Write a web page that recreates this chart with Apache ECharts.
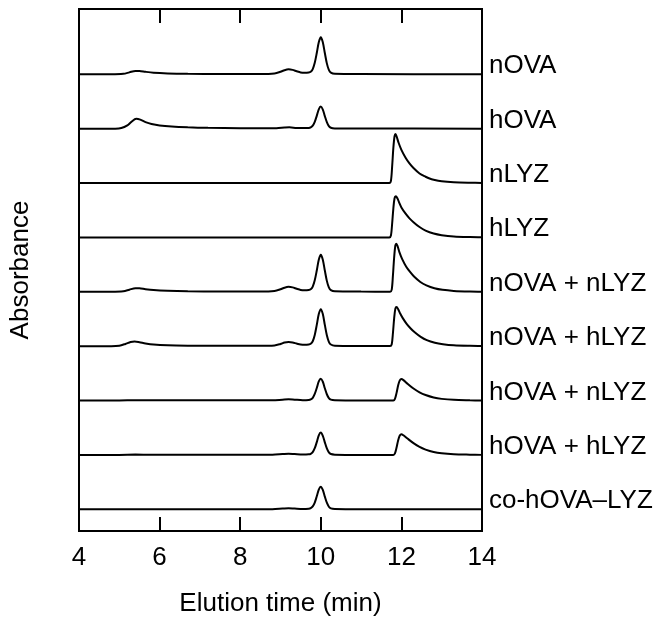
<!DOCTYPE html>
<html>
<head>
<meta charset="utf-8">
<script src="https://cdn.jsdelivr.net/npm/echarts@6/dist/echarts.min.js"></script>
<style>
  html, body { margin: 0; padding: 0; background: #fff; }
  #chart { width: 672px; height: 624px; }
</style>
</head>
<body>
<div id="chart"></div>
<script>
// Size-exclusion chromatograms, absorbance vs elution time.
// Each trace is a list of [time (min), absorbance above its own baseline].
const traceNames = [
  'nOVA', 'hOVA', 'nLYZ', 'hLYZ',
  'nOVA + nLYZ', 'nOVA + hLYZ', 'hOVA + nLYZ', 'hOVA + hLYZ', 'co-hOVA\u2013LYZ'
];

const nOVA = [
  [4.0,0],[4.8,0],[5.1,0.08],[5.25,0.35],[5.4,0.62],[5.5,0.62],[5.65,0.45],[5.85,0.28],
  [6.2,0.16],[6.7,0.09],[7.5,0.05],[8.5,0.05],[8.85,0.15],[9.0,0.45],[9.1,0.75],[9.2,0.9],
  [9.3,0.8],[9.4,0.55],[9.5,0.33],[9.6,0.27],[9.7,0.33],[9.75,0.46],[9.8,0.95],[9.85,2.1],
  [9.9,3.9],[9.95,5.9],[10.0,6.8],[10.05,5.9],[10.1,3.9],[10.15,2.0],[10.2,0.8],[10.25,0.3],
  [10.35,0.08],[11,0.03],[14,0]
];

const hOVA = [
  [4.0,0],[4.9,0],[5.05,0.1],[5.2,0.6],[5.3,1.25],[5.42,1.8],[5.52,1.65],[5.65,1.2],
  [5.8,0.85],[6.0,0.58],[6.3,0.38],[6.7,0.24],[7.2,0.14],[8.0,0.08],[8.9,0.07],[9.1,0.2],
  [9.22,0.25],[9.4,0.12],[9.6,0.1],[9.7,0.13],[9.75,0.25],[9.8,0.55],[9.85,1.25],[9.9,2.35],
  [9.95,3.55],[10.0,4.05],[10.05,3.5],[10.1,2.3],[10.15,1.2],[10.2,0.45],[10.25,0.15],
  [10.35,0.04],[11,0.01],[14,0]
];

const nLYZ = [
  [4,0],[11.7,0],[11.74,0.4],[11.77,3.0],[11.8,6.4],[11.83,8.6],[11.855,9.0],[11.88,8.6],
  [11.93,7.4],[12.0,6.1],[12.1,4.7],[12.2,3.6],[12.3,2.75],[12.45,1.75],[12.6,1.15],
  [12.7,0.82],[12.8,0.6],[13.0,0.32],[13.3,0.14],[13.7,0.05],[14,0.02]
];

const hLYZ = [
  [4,0],[11.7,0],[11.74,0.35],[11.77,2.5],[11.8,5.3],[11.83,7.2],[11.86,7.55],[11.9,7.2],
  [11.95,6.3],[12.0,5.5],[12.1,4.4],[12.2,3.5],[12.3,2.8],[12.45,1.9],[12.6,1.25],
  [12.8,0.7],[13.0,0.4],[13.3,0.16],[13.7,0.05],[14,0.02]
];

const nOVA_nLYZ = [
  [4,0],[4.8,0],[5.1,0.08],[5.25,0.38],[5.4,0.66],[5.5,0.65],[5.65,0.47],[5.85,0.3],
  [6.2,0.17],[6.7,0.09],[7.5,0.05],[8.5,0.05],[8.85,0.15],[9.0,0.45],[9.1,0.75],[9.2,0.9],
  [9.3,0.8],[9.4,0.55],[9.5,0.33],[9.6,0.27],[9.7,0.33],[9.75,0.46],[9.8,0.95],[9.85,2.1],
  [9.9,3.9],[9.95,5.9],[10.0,6.8],[10.05,5.9],[10.1,3.9],[10.15,2.0],[10.2,0.8],[10.25,0.3],
  [10.35,0.08],[11,0.03],[11.72,0.02],[11.76,0.4],[11.79,3.0],[11.82,6.3],[11.85,8.5],
  [11.875,8.85],[11.9,8.5],[11.95,7.3],[12.02,6.0],[12.12,4.6],[12.22,3.6],[12.32,2.75],
  [12.47,1.8],[12.62,1.18],[12.82,0.64],[13.02,0.35],[13.3,0.16],[13.7,0.05],[14,0.02]
];

const nOVA_hLYZ = [
  [4,0],[4.8,0],[5.0,0.08],[5.15,0.4],[5.28,0.75],[5.38,0.85],[5.5,0.72],[5.65,0.5],
  [5.85,0.3],[6.2,0.16],[6.7,0.09],[7.5,0.05],[8.5,0.05],[8.85,0.13],[9.0,0.4],[9.1,0.65],
  [9.2,0.75],[9.3,0.68],[9.4,0.47],[9.5,0.3],[9.6,0.25],[9.7,0.31],[9.75,0.43],[9.8,0.9],
  [9.85,2.05],[9.9,3.9],[9.95,5.9],[10.0,6.8],[10.05,5.9],[10.1,3.9],[10.15,2.0],[10.2,0.8],
  [10.25,0.3],[10.35,0.08],[11,0.03],[11.72,0.02],[11.76,0.35],[11.79,2.4],[11.82,5.1],
  [11.85,6.9],[11.88,7.2],[11.92,6.8],[11.97,6.0],[12.03,5.2],[12.13,4.1],[12.23,3.25],
  [12.33,2.55],[12.48,1.7],[12.63,1.1],[12.83,0.62],[13.03,0.35],[13.3,0.15],[13.7,0.05],[14,0.02]
];

const hOVA_nLYZ = [
  [4,0],[5.0,0],[5.4,0.06],[5.8,0.03],[8.8,0.03],[9.05,0.15],[9.2,0.22],[9.35,0.15],
  [9.55,0.06],[9.7,0.1],[9.75,0.2],[9.8,0.5],[9.85,1.2],[9.9,2.3],[9.95,3.5],[10.0,4.0],
  [10.05,3.45],[10.1,2.25],[10.15,1.15],[10.2,0.45],[10.25,0.15],[10.35,0.04],[11,0],
  [11.8,0],[11.84,0.3],[11.88,1.4],[11.92,2.8],[11.96,3.7],[12.0,3.95],[12.05,3.75],
  [12.15,3.1],[12.3,2.2],[12.45,1.5],[12.6,1.0],[12.8,0.55],[13.0,0.3],[13.3,0.12],
  [13.7,0.04],[14,0]
];

const hOVA_hLYZ = [
  [4,0],[5.0,0],[5.4,0.06],[5.8,0.03],[8.8,0.03],[9.05,0.15],[9.2,0.22],[9.35,0.15],
  [9.55,0.06],[9.7,0.1],[9.75,0.2],[9.8,0.52],[9.85,1.22],[9.9,2.35],[9.95,3.6],[10.0,4.1],
  [10.05,3.5],[10.1,2.3],[10.15,1.18],[10.2,0.46],[10.25,0.15],[10.35,0.04],[11,0],
  [11.8,0],[11.84,0.28],[11.88,1.35],[11.92,2.7],[11.96,3.55],[12.0,3.8],[12.05,3.6],
  [12.15,3.0],[12.3,2.15],[12.45,1.45],[12.6,0.97],[12.8,0.53],[13.0,0.29],[13.3,0.12],
  [13.7,0.04],[14,0]
];

const coHOVA_LYZ = [
  [4,0],[8.8,0.02],[9.05,0.12],[9.2,0.18],[9.35,0.12],[9.55,0.05],[9.7,0.1],[9.75,0.2],
  [9.8,0.52],[9.85,1.22],[9.9,2.38],[9.95,3.62],[10.0,4.15],[10.05,3.55],[10.1,2.33],
  [10.15,1.2],[10.2,0.46],[10.25,0.15],[10.35,0.04],[11,0],[14,0]
];

const traceValues = [
  nOVA, hOVA, nLYZ, hLYZ, nOVA_nLYZ, nOVA_hLYZ, hOVA_nLYZ, hOVA_hLYZ, coHOVA_LYZ
];

const xTicks = { min: 4, max: 14, interval: 2 };
const baselineStep = 10;   // vertical separation between stacked traces

const FONT = '"Liberation Sans", Arial, Helvetica, sans-serif';
const FS = 26;

const chart = echarts.init(document.getElementById('chart'), null, { renderer: 'canvas' });

const n = traceValues.length;
const series = traceValues.map((values, k) => {
  const offset = (n - 1 - k) * baselineStep;
  return {
    type: 'line',
    name: traceNames[k],
    data: values.map(([t, a]) => [t, a + offset]),
    showSymbol: false,
    symbol: 'none',
    smooth: 0.3,
    clip: false,
    silent: true,
    lineStyle: { color: '#000', width: 2 },
    endLabel: {
      show: true,
      formatter: '{a}',
      color: '#000',
      fontFamily: FONT,
      fontSize: FS,
      distance: 7,
      offset: [0, -8]
    }
  };
});

const axisCommon = {
  type: 'value',
  min: xTicks.min,
  max: xTicks.max,
  interval: xTicks.interval,
  axisLine: { show: true, onZero: false, lineStyle: { color: '#000', width: 2 } },
  axisTick: { show: true, inside: true, length: 14, lineStyle: { color: '#000', width: 2 } },
  splitLine: { show: false }
};

chart.setOption({
  animation: false,
  backgroundColor: '#fff',
  grid: {
    left: 79, top: 9, width: 403, height: 522,
    show: true, borderColor: '#000', borderWidth: 2, backgroundColor: 'transparent'
  },
  xAxis: [
    Object.assign({}, axisCommon, {
      position: 'bottom',
      axisLabel: { show: true, color: '#000', fontFamily: FONT, fontSize: FS, margin: 14,
                   showMinLabel: true, showMaxLabel: true },
      name: 'Elution time (min)',
      nameLocation: 'middle',
      nameGap: 60,
      nameTextStyle: { color: '#000', fontFamily: FONT, fontSize: FS }
    }),
    Object.assign({}, axisCommon, {
      position: 'top',
      axisLabel: { show: false }
    })
  ],
  yAxis: {
    type: 'value',
    min: -4,
    max: 92,
    axisLine: { show: false },
    axisTick: { show: false },
    axisLabel: { show: false },
    splitLine: { show: false },
    name: 'Absorbance',
    nameLocation: 'middle',
    nameRotate: 90,
    nameGap: 45,
    nameTextStyle: { color: '#000', fontFamily: FONT, fontSize: FS }
  },
  series: series
});
</script>
</body>
</html>
